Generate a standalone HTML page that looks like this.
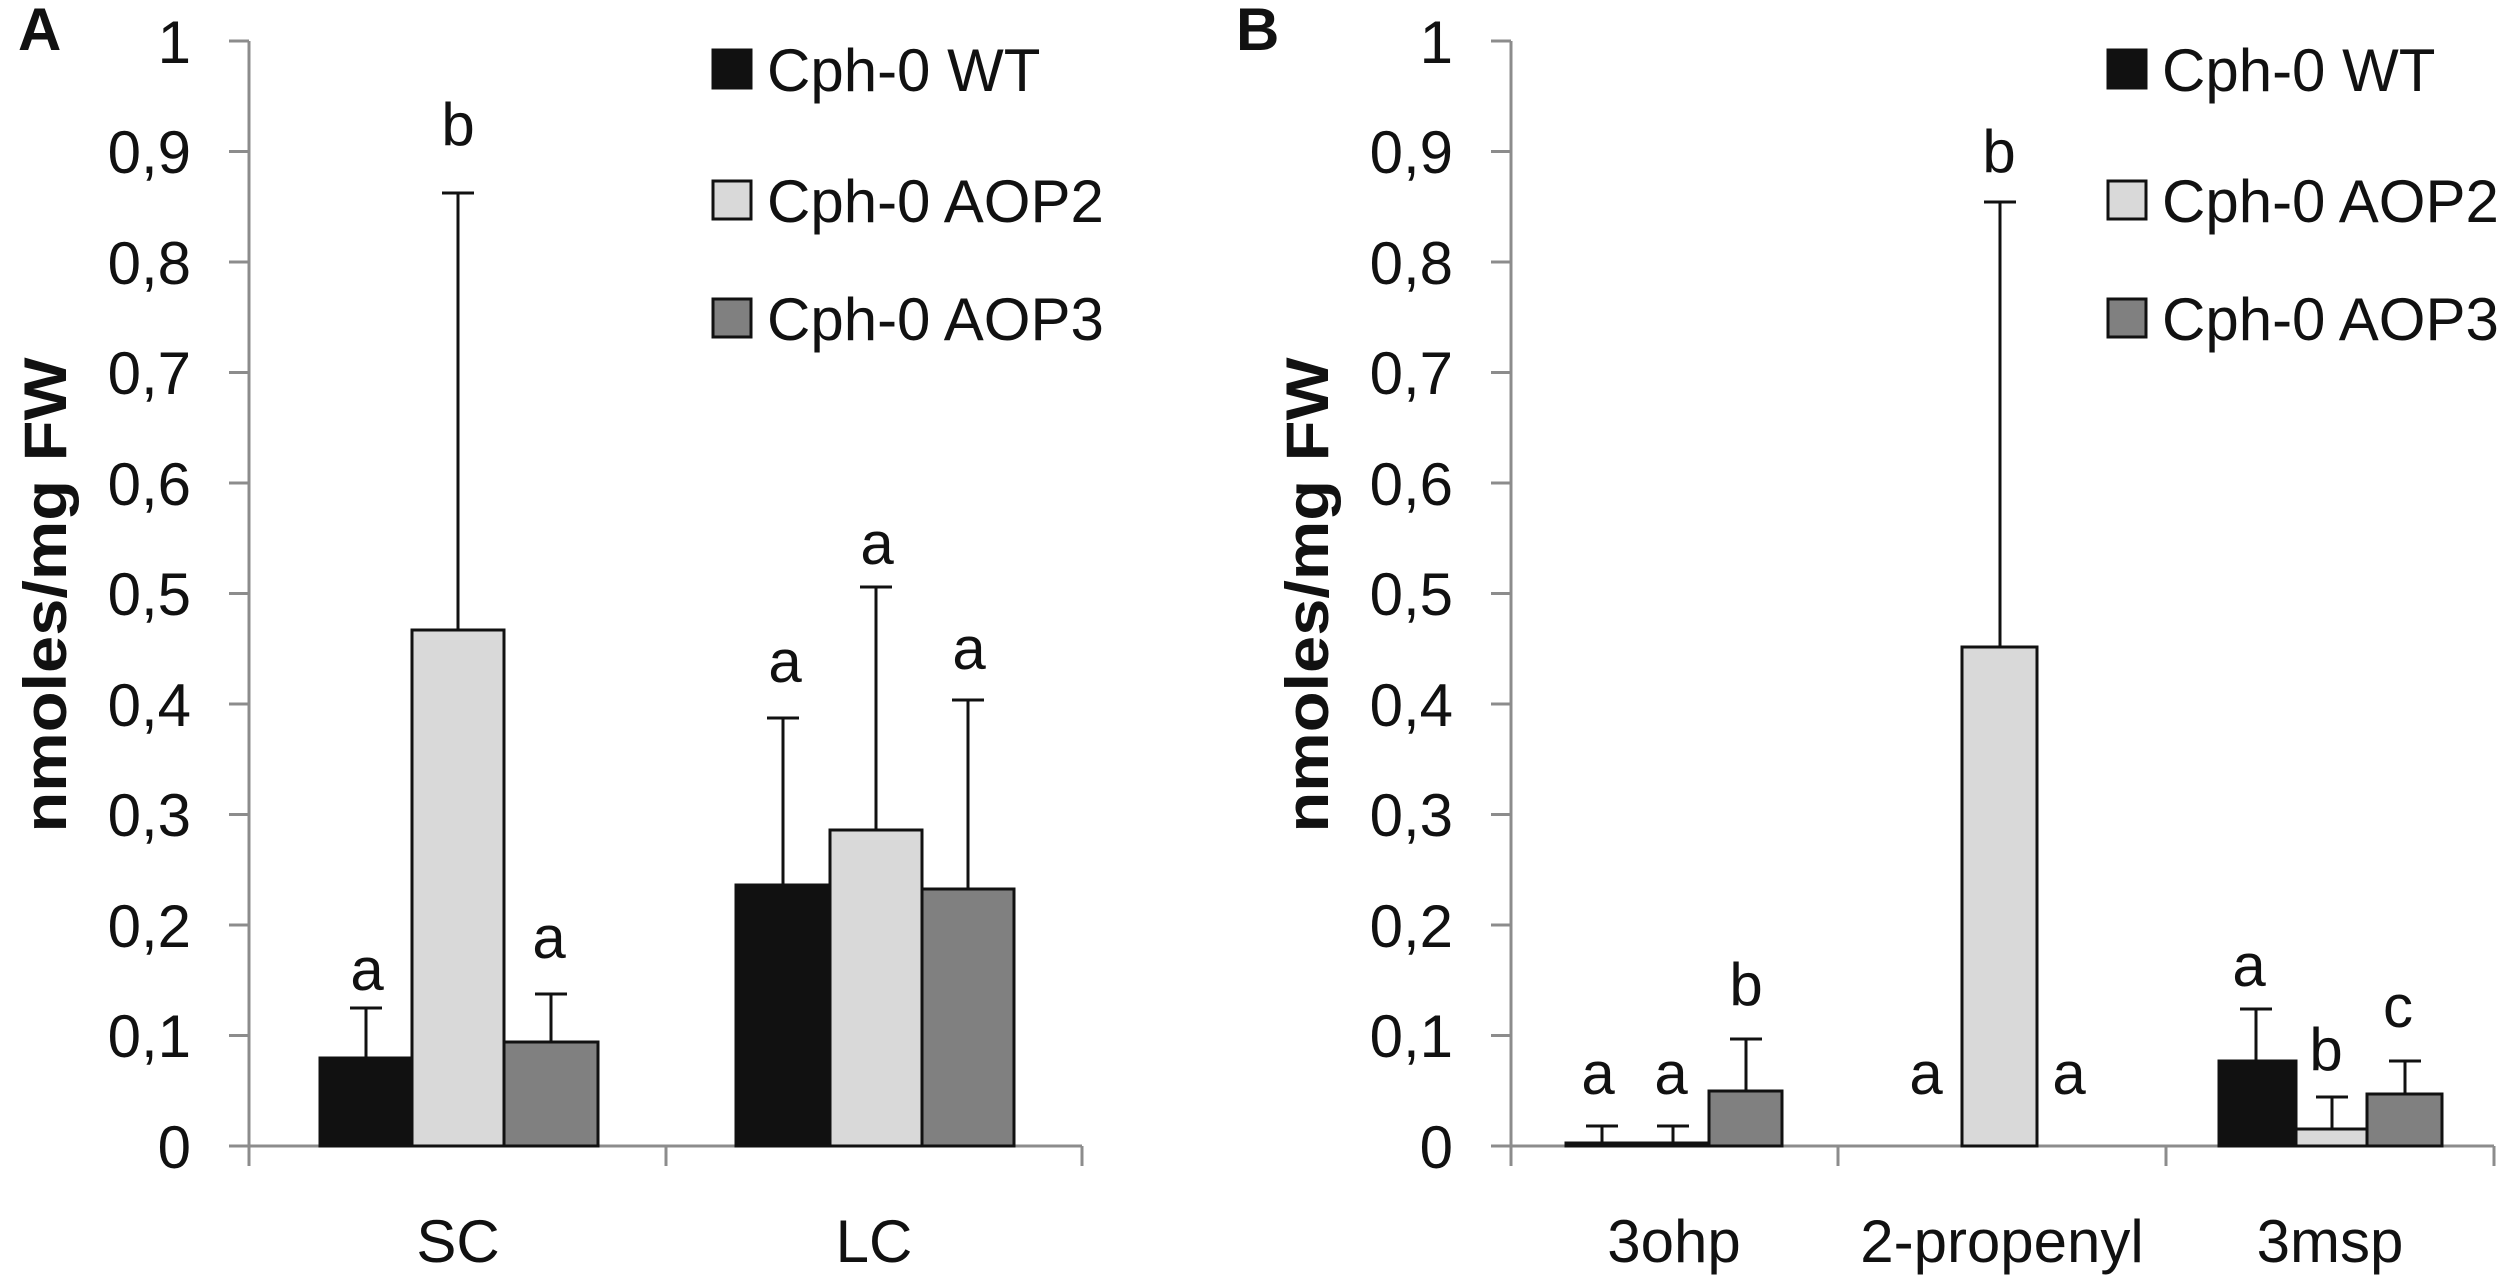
<!DOCTYPE html>
<html><head><meta charset="utf-8"><style>
html,body{margin:0;padding:0;background:#fff;}
svg{display:block;}
text{font-family:"Liberation Sans",sans-serif;fill:#111;}
</style></head><body>
<svg width="2500" height="1276" viewBox="0 0 2500 1276" xmlns="http://www.w3.org/2000/svg">
<text x="18" y="50" font-size="60" font-weight="bold">A</text>
<text x="1236" y="50" font-size="60" font-weight="bold">B</text>

<g stroke="#8c8c8c" stroke-width="3" fill="none">
<line x1="249" y1="41" x2="249" y2="1166"/>
<line x1="229" y1="1146" x2="1082" y2="1146"/>
<line x1="666" y1="1146" x2="666" y2="1166"/>
<line x1="1082" y1="1146" x2="1082" y2="1166"/>
<line x1="229" y1="41" x2="249" y2="41"/>
<line x1="229" y1="151.5" x2="249" y2="151.5"/>
<line x1="229" y1="262" x2="249" y2="262"/>
<line x1="229" y1="372.5" x2="249" y2="372.5"/>
<line x1="229" y1="483" x2="249" y2="483"/>
<line x1="229" y1="593.5" x2="249" y2="593.5"/>
<line x1="229" y1="704" x2="249" y2="704"/>
<line x1="229" y1="814.5" x2="249" y2="814.5"/>
<line x1="229" y1="925" x2="249" y2="925"/>
<line x1="229" y1="1035.5" x2="249" y2="1035.5"/>
</g>
<g font-size="60" text-anchor="end">
<text x="191" y="63">1</text>
<text x="191" y="173">0,9</text>
<text x="191" y="284">0,8</text>
<text x="191" y="394">0,7</text>
<text x="191" y="505">0,6</text>
<text x="191" y="615">0,5</text>
<text x="191" y="726">0,4</text>
<text x="191" y="836">0,3</text>
<text x="191" y="947">0,2</text>
<text x="191" y="1057">0,1</text>
<text x="191" y="1168">0</text>
</g>
<text transform="translate(66,595) rotate(-90)" font-size="60" font-weight="bold" text-anchor="middle" textLength="475" lengthAdjust="spacingAndGlyphs">nmoles/mg FW</text>

<g stroke="#111" stroke-width="3">
<line x1="366" y1="1058" x2="366" y2="1008"/><line x1="350" y1="1008" x2="382" y2="1008"/>
<line x1="458" y1="630" x2="458" y2="193"/><line x1="442" y1="193" x2="474" y2="193"/>
<line x1="551" y1="1042" x2="551" y2="994"/><line x1="535" y1="994" x2="567" y2="994"/>
<line x1="783" y1="885" x2="783" y2="718"/><line x1="767" y1="718" x2="799" y2="718"/>
<line x1="876" y1="830" x2="876" y2="587"/><line x1="860" y1="587" x2="892" y2="587"/>
<line x1="968" y1="889" x2="968" y2="700"/><line x1="952" y1="700" x2="984" y2="700"/>
</g>
<g stroke="#111" stroke-width="3">
<rect x="320" y="1058" width="92" height="88" fill="#111"/>
<rect x="412" y="630" width="92" height="516" fill="#d9d9d9"/>
<rect x="504" y="1042" width="94" height="104" fill="#808080"/>
<rect x="736" y="885" width="94" height="261" fill="#111"/>
<rect x="830" y="830" width="92" height="316" fill="#d9d9d9"/>
<rect x="922" y="889" width="92" height="257" fill="#808080"/>
</g>
<g font-size="60" text-anchor="middle">
<text x="367" y="990">a</text>
<text x="458" y="145">b</text>
<text x="549" y="958">a</text>
<text x="785" y="682">a</text>
<text x="877" y="564">a</text>
<text x="969" y="669">a</text>
</g>
<g font-size="60" text-anchor="middle">
<text x="458" y="1262">SC</text>
<text x="874" y="1262">LC</text>
</g>
<g stroke="#111" stroke-width="3">
<rect x="713" y="50" width="38" height="38" fill="#111"/>
<rect x="713" y="181" width="38" height="38" fill="#d9d9d9"/>
<rect x="713" y="299" width="38" height="38" fill="#808080"/>
</g>
<g font-size="60">
<text x="767" y="91">Cph-0 WT</text>
<text x="767" y="222">Cph-0 AOP2</text>
<text x="767" y="340">Cph-0 AOP3</text>
</g>

<g stroke="#8c8c8c" stroke-width="3" fill="none">
<line x1="1511" y1="41" x2="1511" y2="1166"/>
<line x1="1491" y1="1146" x2="2494" y2="1146"/>
<line x1="1838" y1="1146" x2="1838" y2="1166"/>
<line x1="2166" y1="1146" x2="2166" y2="1166"/>
<line x1="2494" y1="1146" x2="2494" y2="1166"/>
<line x1="1491" y1="41" x2="1511" y2="41"/>
<line x1="1491" y1="151.5" x2="1511" y2="151.5"/>
<line x1="1491" y1="262" x2="1511" y2="262"/>
<line x1="1491" y1="372.5" x2="1511" y2="372.5"/>
<line x1="1491" y1="483" x2="1511" y2="483"/>
<line x1="1491" y1="593.5" x2="1511" y2="593.5"/>
<line x1="1491" y1="704" x2="1511" y2="704"/>
<line x1="1491" y1="814.5" x2="1511" y2="814.5"/>
<line x1="1491" y1="925" x2="1511" y2="925"/>
<line x1="1491" y1="1035.5" x2="1511" y2="1035.5"/>
</g>
<g font-size="60" text-anchor="end">
<text x="1453" y="63">1</text>
<text x="1453" y="173">0,9</text>
<text x="1453" y="284">0,8</text>
<text x="1453" y="394">0,7</text>
<text x="1453" y="505">0,6</text>
<text x="1453" y="615">0,5</text>
<text x="1453" y="726">0,4</text>
<text x="1453" y="836">0,3</text>
<text x="1453" y="947">0,2</text>
<text x="1453" y="1057">0,1</text>
<text x="1453" y="1168">0</text>
</g>
<text transform="translate(1328,595) rotate(-90)" font-size="60" font-weight="bold" text-anchor="middle" textLength="475" lengthAdjust="spacingAndGlyphs">nmoles/mg FW</text>

<g stroke="#111" stroke-width="3">
<line x1="1602" y1="1143" x2="1602" y2="1126"/><line x1="1586" y1="1126" x2="1618" y2="1126"/>
<line x1="1673" y1="1143" x2="1673" y2="1126"/><line x1="1657" y1="1126" x2="1689" y2="1126"/>
<line x1="1746" y1="1091" x2="1746" y2="1039"/><line x1="1730" y1="1039" x2="1762" y2="1039"/>
<line x1="2000" y1="647" x2="2000" y2="202"/><line x1="1984" y1="202" x2="2016" y2="202"/>
<line x1="2256" y1="1061" x2="2256" y2="1009"/><line x1="2240" y1="1009" x2="2272" y2="1009"/>
<line x1="2332" y1="1129" x2="2332" y2="1097"/><line x1="2316" y1="1097" x2="2348" y2="1097"/>
<line x1="2405" y1="1094" x2="2405" y2="1061"/><line x1="2389" y1="1061" x2="2421" y2="1061"/>
</g>
<g stroke="#111" stroke-width="3">
<rect x="1566" y="1143" width="72" height="3" fill="#111"/>
<rect x="1638" y="1143" width="71" height="3" fill="#d9d9d9"/>
<rect x="1709" y="1091" width="73" height="55" fill="#808080"/>
<rect x="1962" y="647" width="75" height="499" fill="#d9d9d9"/>
<rect x="2219" y="1061" width="77" height="85" fill="#111"/>
<rect x="2296" y="1129" width="71" height="17" fill="#d9d9d9"/>
<rect x="2367" y="1094" width="75" height="52" fill="#808080"/>
</g>
<g font-size="60" text-anchor="middle">
<text x="1598" y="1094">a</text>
<text x="1671" y="1094">a</text>
<text x="1746" y="1005">b</text>
<text x="1926" y="1094">a</text>
<text x="1999" y="172">b</text>
<text x="2069" y="1094">a</text>
<text x="2249" y="986">a</text>
<text x="2326" y="1070">b</text>
<text x="2398" y="1027">c</text>
</g>
<g font-size="60" text-anchor="middle">
<text x="1674" y="1262">3ohp</text>
<text x="2002" y="1262">2-propenyl</text>
<text x="2330" y="1262">3msp</text>
</g>
<g stroke="#111" stroke-width="3">
<rect x="2108" y="50" width="38" height="38" fill="#111"/>
<rect x="2108" y="181" width="38" height="38" fill="#d9d9d9"/>
<rect x="2108" y="299" width="38" height="38" fill="#808080"/>
</g>
<g font-size="60">
<text x="2162" y="91">Cph-0 WT</text>
<text x="2162" y="222">Cph-0 AOP2</text>
<text x="2162" y="340">Cph-0 AOP3</text>
</g>
</svg>
</body></html>
